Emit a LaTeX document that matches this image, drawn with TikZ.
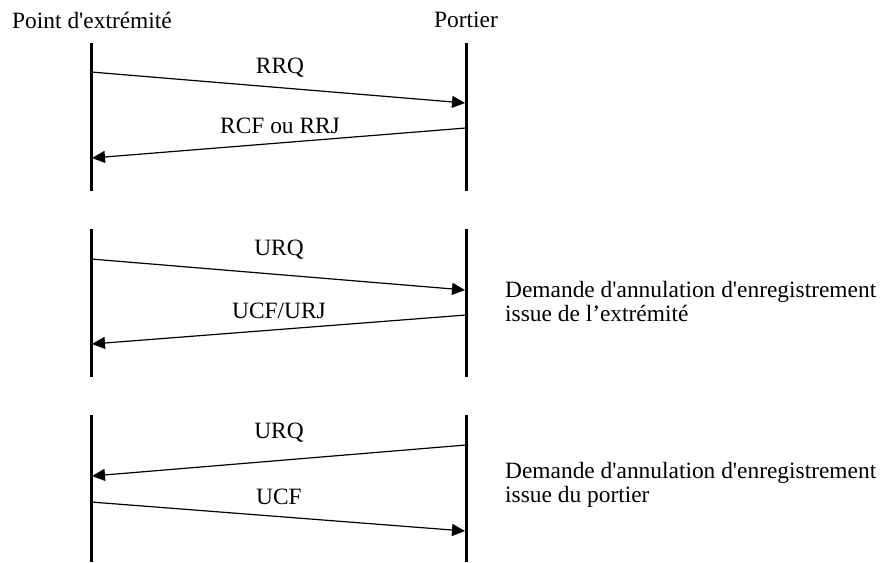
\documentclass[tikz,border=0pt]{standalone}
\usepackage{fontspec}
% plain family: no TeX ligature mapping, so ' stays a straight apostrophe
\newfontfamily\diagfont{Liberation Serif}
\usetikzlibrary{arrows.meta}
\begin{document}
\begin{tikzpicture}[x=1pt,y=-1pt,
  lifeline/.style={line width=3pt},
  msg/.style={line width=1.2pt,-{Triangle[length=13pt,width=12pt]}},
  lbl/.style={font=\diagfont\fontsize{23.4}{24}\selectfont,inner sep=0pt},
  note/.style={font=\diagfont\fontsize{23.4}{24}\selectfont,inner sep=0pt,anchor=west,align=left}]
\useasboundingbox (0,0) rectangle (882,562);

% headers
\node[lbl] (ep) at (92,20) {Point d'extrémité};
\node[lbl] (gk) at (466,20) {Portier};

% lifelines of the three exchanges
\foreach \n/\t/\b in {1/43/191, 2/229/377, 3/415/562}{
  \coordinate (L\n t) at (91,\t);  \coordinate (L\n b) at (91,\b);
  \coordinate (R\n t) at (466,\t); \coordinate (R\n b) at (466,\b);
  \draw[lifeline] (L\n t) -- (L\n b);
  \draw[lifeline] (R\n t) -- (R\n b);
}

% message end points
\coordinate (a1) at (91,72);   \coordinate (b1) at (465,103);
\coordinate (a2) at (466,128); \coordinate (b2) at (92,158);
\coordinate (a3) at (91,259);  \coordinate (b3) at (465,290);
\coordinate (a4) at (466,315); \coordinate (b4) at (92,344);
\coordinate (a5) at (466,445); \coordinate (b5) at (92,476);
\coordinate (a6) at (91,502);  \coordinate (b6) at (465,531);

\draw[msg] (a1) -- (b1);
\draw[msg] (a2) -- (b2);
\draw[msg] (a3) -- (b3);
\draw[msg] (a4) -- (b4);
\draw[msg] (a5) -- (b5);
\draw[msg] (a6) -- (b6);

% message labels
\node[lbl] (m1) at (280,68)  {RRQ};
\node[lbl] (m2) at (280,126) {RCF ou RRJ};
\node[lbl] (m3) at (279,250) {URQ};
\node[lbl] (m4) at (279,311) {UCF/URJ};
\node[lbl] (m5) at (279,433) {URQ};
\node[lbl] (m6) at (279,497) {UCF};

% side notes
\node[note] (n1) at (505,301) {Demande d'annulation d'enregistrement\\issue de l’extrémité};
\node[note] (n2) at (505,485) {Demande d'annulation d'enregistrement\\issue du portier};
\end{tikzpicture}
\end{document}
